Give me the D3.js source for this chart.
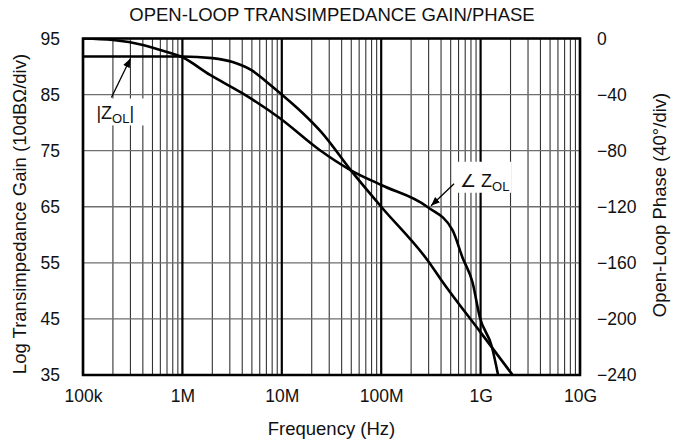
<html lang="en">
  <head>
    <meta charset="utf-8">
    <title>Open-loop transimpedance gain/phase</title>
    <script src="https://d3js.org/d3.v7.min.js"></script>
    <style>
      body { margin: 0; background: #fff; }
      text { font-family: "Liberation Sans", Arial, sans-serif; fill: #111; }
    </style>
  </head>
  <body>
    <script type="text/javascript">
      var w = 687;
      var h = 443;
      var margin = {top: 38.5, right: 107, bottom: 68, left: 83};

      // data
      var decades = [1e5, 1e6, 1e7, 1e8, 1e9, 1e10];
      var freqLabels = ["100k", "1M", "10M", "100M", "1G", "10G"];
      var gainTicks = [35, 45, 55, 65, 75, 85, 95];
      var phaseTicks = [0, -40, -80, -120, -160, -200, -240];
      var phaseTickLabels = ["0", "\u221240", "\u221280", "\u2212120", "\u2212160", "\u2212200", "\u2212240"];

      var gainFreq = [1e5, 1e6, 2e6, 3.2e6, 5e6, 7e6, 1e7, 1.6e7, 2.5e7, 5e7, 1e8, 3e8, 4e8, 1e9, 2.1e9];
      var gainDb = [91.8, 91.8, 91.5, 90.8, 89.3, 87.3, 85.0, 81.8, 78.3, 71.4, 65.0, 55.2, 52.0, 42.6, 35];

      var phaseFreq = [1e5, 2e5, 4e5, 6e5, 1e6, 1.9e6, 4e6, 9.5e6, 2.4e7, 4.9e7, 1e8, 2.9e8, 5.2e8, 6.6e8, 8.3e8, 9.8e8, 1.3e9, 1.5e9];
      var phaseDeg = [0, -1.1, -4.6, -8.2, -13.4, -26, -39, -56.7, -79.5, -93.8, -104.5, -120, -136.5, -156.5, -174, -198.6, -220, -240];

      var iw = w - margin.left - margin.right;
      var ih = h - margin.top - margin.bottom;

      var x = d3.scaleLog().domain([1e5, 1e10]).range([0, iw]);
      var yGain = d3.scaleLinear().domain([35, 95]).range([ih, 0]);
      var yPhase = d3.scaleLinear().domain([-240, 0]).range([ih, 0]);

      var svg = d3.select("body").append("svg")
                  .attr("width", w)
                  .attr("height", h);

      svg.append("text")
         .attr("x", 332).attr("y", 21)
         .attr("text-anchor", "middle")
         .style("font-size", "18.5px")
         .text("OPEN-LOOP TRANSIMPEDANCE GAIN/PHASE");

      var g = svg.append("g")
                 .attr("transform", `translate(${margin.left},${margin.top})`);

      g.append("clipPath").attr("id", "plot")
       .append("rect").attr("width", iw).attr("height", ih);

      // minor vertical grid
      var minors = [];
      decades.slice(0, -1).forEach(function (d) {
        for (var k = 2; k <= 9; k++) minors.push(d * k);
      });
      g.selectAll("line.minor").data(minors).enter().append("line")
       .attr("class", "minor")
       .attr("x1", d => x(d)).attr("x2", d => x(d))
       .attr("y1", 0).attr("y2", ih)
       .attr("stroke", "#333").attr("stroke-width", 1.1);

      // horizontal grid
      g.selectAll("line.hgrid").data(gainTicks).enter().append("line")
       .attr("class", "hgrid")
       .attr("x1", 0).attr("x2", iw)
       .attr("y1", d => yGain(d)).attr("y2", d => yGain(d))
       .attr("stroke", "#6e6e6e").attr("stroke-width", 1.3);

      // decade lines
      g.selectAll("line.decade").data(decades).enter().append("line")
       .attr("class", "decade")
       .attr("x1", d => x(d)).attr("x2", d => x(d))
       .attr("y1", 0).attr("y2", ih)
       .attr("stroke", "#000").attr("stroke-width", 2.2);

      // annotation anchors and white boxes behind labels
      var zTip = [3e5, 91.8];
      var pTip = [3.1e8, -120];
      var zx = x(zTip[0]), zy = yGain(zTip[1]);
      var px = x(pTip[0]), py = yPhase(pTip[1]);

      g.append("rect")
       .attr("x", zx - 37).attr("y", zy + 42).attr("width", 51).attr("height", 27)
       .attr("fill", "#fff");
      g.append("rect")
       .attr("x", px + 27).attr("y", py - 45).attr("width", 54).attr("height", 31)
       .attr("fill", "#fff");

      // curves
      var gainLine = d3.line()
                       .x((d, i) => x(gainFreq[i]))
                       .y(d => yGain(d))
                       .curve(d3.curveMonotoneX);
      var phaseLine = d3.line()
                        .x((d, i) => x(phaseFreq[i]))
                        .y(d => yPhase(d))
                        .curve(d3.curveMonotoneX);

      g.append("path").datum(gainDb)
       .attr("d", gainLine)
       .attr("clip-path", "url(#plot)")
       .attr("fill", "none").attr("stroke", "#000").attr("stroke-width", 2.6);
      g.append("path").datum(phaseDeg)
       .attr("d", phaseLine)
       .attr("clip-path", "url(#plot)")
       .attr("fill", "none").attr("stroke", "#000").attr("stroke-width", 2.6);

      // border
      g.append("rect")
       .attr("width", iw).attr("height", ih)
       .attr("fill", "none").attr("stroke", "#000").attr("stroke-width", 2.5);

      // arrows
      svg.append("defs").append("marker")
         .attr("id", "head").attr("viewBox", "0 0 10 10")
         .attr("refX", 10).attr("refY", 5)
         .attr("markerWidth", 9).attr("markerHeight", 9)
         .attr("markerUnits", "userSpaceOnUse")
         .attr("orient", "auto")
         .append("path").attr("d", "M0,1 L10,5 L0,9 Z").attr("fill", "#000");

      g.append("line")
       .attr("x1", zx - 19).attr("y1", zy + 41)
       .attr("x2", zx).attr("y2", zy + 2)
       .attr("stroke", "#000").attr("stroke-width", 1.3)
       .attr("marker-end", "url(#head)");
      g.append("line")
       .attr("x1", px + 24).attr("y1", py - 23)
       .attr("x2", px + 1).attr("y2", py - 1)
       .attr("stroke", "#000").attr("stroke-width", 1.3)
       .attr("marker-end", "url(#head)");

      var zl = g.append("text")
                .attr("x", zx - 34).attr("y", zy + 63)
                .style("font-size", "18px");
      zl.append("tspan").text("|Z");
      zl.append("tspan").attr("dy", 4).style("font-size", "13px").text("OL");
      zl.append("tspan").attr("dy", -4).text("|");

      var pl = g.append("text")
                .attr("x", px + 30).attr("y", py - 20)
                .style("font-size", "18px");
      pl.append("tspan").text("\u2220 Z");
      pl.append("tspan").attr("dy", 4).style("font-size", "13px").text("OL");

      // axes
      var xAxis = d3.axisBottom(x).tickValues(decades)
                    .tickFormat((d, i) => freqLabels[i])
                    .tickSize(0).tickPadding(15);
      var gx = g.append("g")
                .attr("transform", `translate(0,${ih})`)
                .call(xAxis);

      var yAxisL = d3.axisLeft(yGain).tickValues(gainTicks)
                     .tickSize(0).tickPadding(23);
      var gl = g.append("g").call(yAxisL);

      var yAxisR = d3.axisRight(yPhase).tickValues(phaseTicks)
                     .tickFormat((d, i) => phaseTickLabels[i])
                     .tickSize(0).tickPadding(17);
      var gr = g.append("g").attr("transform", `translate(${iw},0)`).call(yAxisR);

      [gx, gl, gr].forEach(function (a) {
        a.select(".domain").remove();
        a.selectAll("text")
         .style("font-size", "17.5px")
         .style("font-family", '"Liberation Sans", Arial, sans-serif')
         .attr("fill", "#111");
      });

      svg.append("text")
         .attr("x", margin.left + iw / 2).attr("y", 435)
         .attr("text-anchor", "middle")
         .style("font-size", "18.5px")
         .text("Frequency (Hz)");

      svg.append("text")
         .attr("transform", "translate(26,214) rotate(-90)")
         .attr("text-anchor", "middle")
         .style("font-size", "18.5px")
         .text("Log Transimpedance Gain (10dB\u03a9/div)");

      svg.append("text")
         .attr("transform", "translate(666,205) rotate(-90)")
         .attr("text-anchor", "middle")
         .style("font-size", "18.5px")
         .text("Open-Loop Phase (40\u00b0/div)");
    </script>
  </body>
</html>
